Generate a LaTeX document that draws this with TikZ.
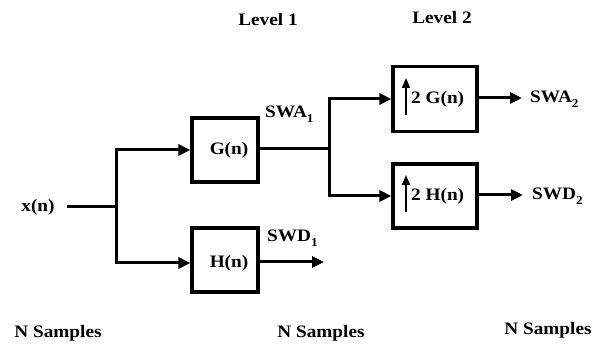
\documentclass[tikz,border=0pt]{standalone}
\usepackage{fontspec}
\setmainfont{Liberation Serif}[FakeStretch=1.1]
\usetikzlibrary{arrows.meta}
\newcommand{\lowsub}[1]{\raisebox{-5pt}{\fontsize{12}{12}\selectfont #1}}
\begin{document}
\begin{tikzpicture}[x=1pt,y=-1pt,
  box/.style={draw,line width=3.2pt,minimum width=66pt,minimum height=64pt,inner sep=0pt},
  wire/.style={line width=3pt},
  arr/.style={line width=3pt,-{Triangle[length=12pt,width=11pt]}},
  up/.style={line width=1.8pt,-{Triangle[length=10pt,width=8pt]}},
  lbl/.style={font=\bfseries\fontsize{17.5}{19}\selectfont,inner sep=0pt}]
\useasboundingbox (0,0) rectangle (603,344);
% boxes
\node[box] (G) at (225,150) {};
\node[lbl] at (229,150) {G(n)};
\node[box] (H) at (225,260) {};
\node[lbl] at (229,263) {H(n)};
\node[box,minimum width=84pt,minimum height=65pt] (G2) at (435,99) {};
\node[box,minimum width=84pt,minimum height=64pt] (H2) at (435,196) {};
\node[lbl,anchor=west] (tG) at (411,99) {2 G(n)};
\node[lbl,anchor=west] (tH) at (411,196) {2 H(n)};
\coordinate (uG1) at (406,115); \coordinate (uG2) at (406,78);
\coordinate (uH1) at (406,212); \coordinate (uH2) at (406,175);
\draw[up] (uG1) -- (uG2);
\draw[up] (uH1) -- (uH2);
% labels
\node[lbl] (x) at (38,207) {x(n)};
\node[lbl,anchor=base west] (swa1) at (265,118) {SWA\lowsub{1}};
\node[lbl,anchor=base west] (swd1) at (267,242) {SWD\lowsub{1}};
\node[lbl,anchor=base west] (swa2) at (530,103) {SWA\lowsub{2}};
\node[lbl,anchor=base west] (swd2) at (532,200) {SWD\lowsub{2}};
\node[lbl] (l1) at (268,20) {Level 1};
\node[lbl] (l2) at (442,18) {Level 2};
\node[lbl] (n1) at (58,333) {N Samples};
\node[lbl] (n2) at (321,333) {N Samples};
\node[lbl] (n3) at (548,330) {N Samples};
% wires
\coordinate (xs) at (67,207);
\coordinate (j1) at (116,207);
\coordinate (j2) at (329,149);
\coordinate (o1) at (324,262);
\coordinate (o2) at (522,98);
\coordinate (o3) at (523,195);
\draw[wire] (xs) -- (j1);
\draw[arr] (j1) |- (G.west);
\draw[arr] (j1) |- (H.west |- 0,263);
\draw[wire] (G.east |- j2) -- (j2);
\draw[arr] (j2) |- (G2.west);
\draw[arr] (j2) |- (H2.west);
\draw[arr] (H.east |- o1) -- (o1);
\draw[arr] (G2.east |- o2) -- (o2);
\draw[arr] (H2.east |- o3) -- (o3);
\end{tikzpicture}
\end{document}
